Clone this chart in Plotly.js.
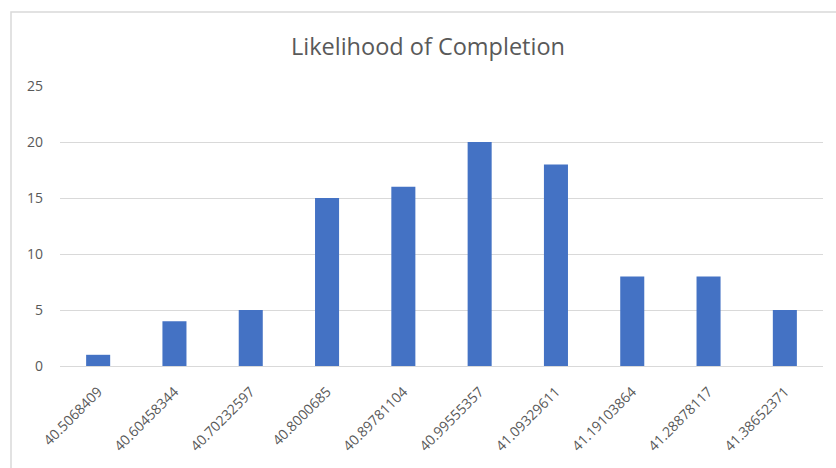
<!DOCTYPE html>
<html>
<head>
<meta charset="utf-8">
<script src="https://cdn.plot.ly/plotly-3.0.1.min.js"></script>
<style>html,body{margin:0;padding:0;background:#fff;}#chart{width:836px;height:468px;}</style>
</head>
<body>
<div id="chart"></div>
<script>
const categories = ["40.5068409","40.60458344","40.70232597","40.8000685","40.89781104","40.99555357","41.09329611","41.19103864","41.28878117","41.38652371"];
const counts = [1,4,5,15,16,20,18,8,8,5];
const yTicks = [0,5,10,15,20,25];

const trace = {
  type: 'bar',
  x: categories,
  y: counts,
  marker: {color: '#4472c4'},
  hoverinfo: 'x+y'
};

const layout = {
  width: 836, height: 468,
  margin: {l: 60, r: 13, t: 86, b: 102},
  paper_bgcolor: '#ffffff', plot_bgcolor: '#ffffff',
  bargap: 0.685,
  showlegend: false,
  font: {family: 'Open Sans, sans-serif', color: '#595959'},
  title: {text: 'Likelihood of Completion', font: {size: 23.5, color: '#595959', family: 'Open Sans, sans-serif'},
          x: 428/836, xref: 'container', xanchor: 'center', y: 1 - 47/468, yref: 'container', yanchor: 'middle'},
  xaxis: {type: 'category', tickangle: -45, tickfont: {size: 14, color: '#595959'}, ticklabelstandoff: 11,
          showgrid: false, showline: true, linecolor: '#d9d9d9', linewidth: 1, ticks: '', fixedrange: true},
  yaxis: {range: [0, 25], tickvals: yTicks, ticktext: yTicks.map(String), tickfont: {size: 14, color: '#595959'},
          showgrid: true, gridcolor: '#d9d9d9', gridwidth: 1, zeroline: false, showline: false, ticks: '', ticklabelstandoff: 16, fixedrange: true},
  shapes: [{type: 'rect', xref: 'paper', yref: 'paper', x0: (11-60)/763, x1: 1.1, y0: -0.5, y1: 1 + (86-12)/280,
            line: {color: '#d9d9d9', width: 1.5}, fillcolor: 'rgba(0,0,0,0)', layer: 'below'}]
};

Plotly.newPlot('chart', [trace], layout, {displayModeBar: false, staticPlot: true});
</script>
</body>
</html>
